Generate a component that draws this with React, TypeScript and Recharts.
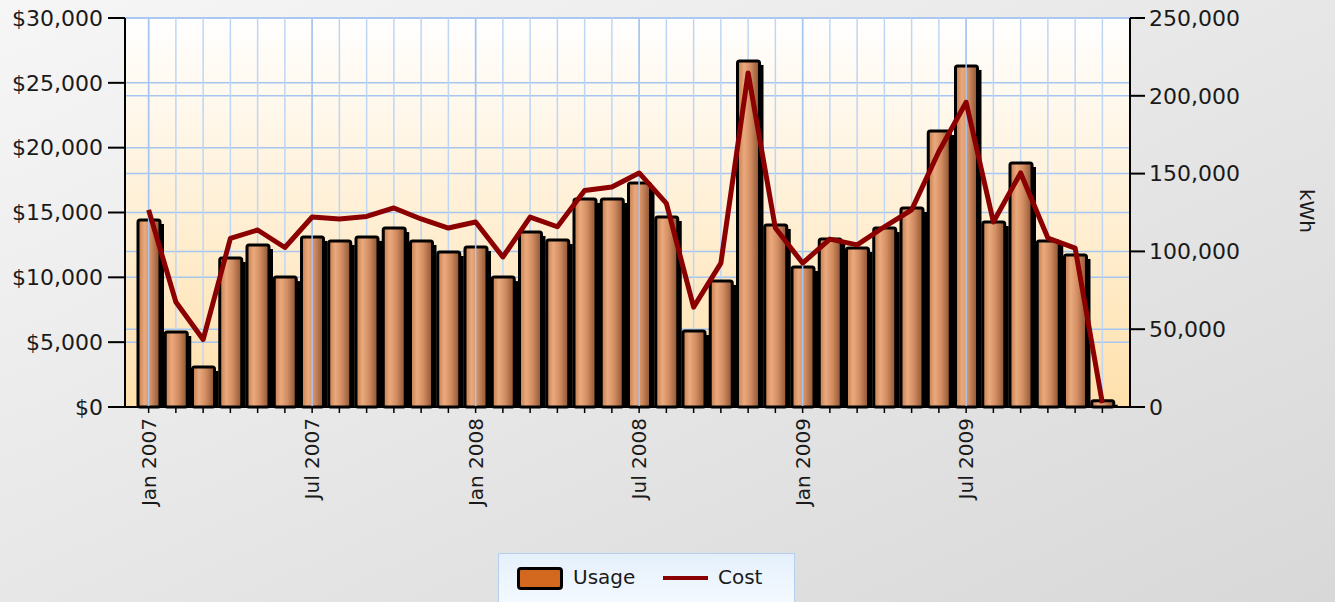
import { ComposedChart, Bar, Line, XAxis, YAxis, CartesianGrid, ReferenceLine, Legend } from 'recharts';

const MONTHS = ['Jan', 'Feb', 'Mar', 'Apr', 'May', 'Jun', 'Jul', 'Aug', 'Sep', 'Oct', 'Nov', 'Dec'];
const YEARS = [2007, 2008, 2009];
const categories = YEARS.flatMap((y) => MONTHS.map((m) => `${m} ${y}`));

// kWh, right axis
const usage = [
  120200, 48200, 25700, 95800, 104100, 83500, 109300, 106700, 109300, 115000, 106700, 99600,
  102800, 83500, 112500, 107300, 133700, 133700, 144000, 122100, 48800, 81000, 222400, 117000,
  90000, 108000, 102200, 115000, 127900, 177400, 219200, 118900, 156800, 106700, 97700, 4000,
];

// dollars, left axis
const cost = [
  15200, 8100, 5200, 13000, 13650, 12300, 14650, 14500, 14700, 15350, 14500, 13800,
  14270, 11570, 14650, 13900, 16700, 16970, 18050, 15700, 7700, 11100, 25760, 13800,
  11100, 12950, 12500, 13900, 15200, 19700, 23500, 14270, 18050, 13030, 12260, 300,
];

const costTicks = [0, 5000, 10000, 15000, 20000, 25000, 30000];
const usageTicks = [0, 50000, 100000, 150000, 200000, 250000];

const data = categories.map((month, i) => ({ month, usage: usage[i], cost: cost[i] }));
const majorMonths = categories.filter((_, i) => i % 6 === 0);

const FONT = '"DejaVu Sans", sans-serif';
const TEXT = '#1a1a1a';
const GRID_MINOR = '#bdd6f5';
const GRID_MAJOR = '#a6c5f0';

const BarShape = (props: any) => {
  const { x, y, width, height } = props;
  if (height <= 0) return null;
  return (
    <g>
      <rect x={x + 4} y={y + 4} width={width} height={Math.max(height - 4, 0)} fill="#000" />
      <rect x={x} y={y} width={width} height={height} rx={2} fill="url(#barGradient)" stroke="#000" strokeWidth={3} />
    </g>
  );
};

const MonthTick = (props: any) => {
  const { x, y, payload, index } = props;
  if (index % 6 !== 0) return null;
  return (
    <text
      x={x}
      y={y + 3}
      dy={7}
      transform={`rotate(-90, ${x}, ${y + 3})`}
      textAnchor="end"
      fill={TEXT}
      fontFamily={FONT}
      fontSize={20}
    >
      {payload.value}
    </text>
  );
};

const LegendBox = () => (
  <div
    style={{
      position: 'relative',
      width: 297,
      height: 49,
      boxSizing: 'border-box',
      background: 'linear-gradient(#e5f0fc, #f4f9ff)',
      border: '1px solid #b4cff0',
      borderBottom: 'none',
      fontFamily: FONT,
      fontSize: 20,
      color: TEXT,
    }}
  >
    <div style={{ position: 'absolute', left: 18, top: 13, width: 40, height: 17, background: '#d2691e', border: '3px solid #000', borderRadius: 4 }} />
    <span style={{ position: 'absolute', left: 74, top: 11, lineHeight: '24px' }}>Usage</span>
    <div style={{ position: 'absolute', left: 164, top: 22, width: 45, height: 4, background: '#8b0000' }} />
    <span style={{ position: 'absolute', left: 219, top: 11, lineHeight: '24px' }}>Cost</span>
  </div>
);

export default function App() {
  return (
    <div
      style={{
        position: 'absolute',
        left: 0,
        top: 0,
        width: 1335,
        height: 602,
        overflow: 'hidden',
        background: 'linear-gradient(to bottom right, #f6f6f6, #d8d8d8)',
      }}
    >
      <ComposedChart width={1335} height={602} data={data} margin={{ top: 18, right: 0, bottom: 75, left: 0 }}>
        <defs>
          <linearGradient id="plotBg" x1="0" y1="0" x2="0" y2="1">
            <stop offset="0%" stopColor="#ffffff" />
            <stop offset="100%" stopColor="#ffe0ab" />
          </linearGradient>
          <linearGradient id="barGradient" x1="0" y1="0" x2="1" y2="0">
            <stop offset="0%" stopColor="#c47b4b" />
            <stop offset="30%" stopColor="#eaaa7e" />
            <stop offset="60%" stopColor="#d18c60" />
            <stop offset="100%" stopColor="#8a5232" />
          </linearGradient>
        </defs>
        <CartesianGrid yAxisId="left" stroke={GRID_MAJOR} strokeWidth={1.5} fill="url(#plotBg)" vertical={false} />
        <CartesianGrid yAxisId="right" stroke={GRID_MAJOR} strokeWidth={1.5} vertical={false} />
        <CartesianGrid yAxisId="left" stroke={GRID_MINOR} strokeWidth={1.5} horizontal={false} />
        {majorMonths.map((m) => (
          <ReferenceLine key={m} x={m} yAxisId="left" stroke={GRID_MAJOR} strokeWidth={1.5} />
        ))}
        <XAxis
          dataKey="month"
          interval={0}
          height={120}
          padding={{ left: 10, right: 14 }}
          tickSize={6}
          tick={<MonthTick />}
          axisLine={{ stroke: '#000', strokeWidth: 2 }}
          tickLine={{ stroke: '#000', strokeWidth: 1.5 }}
        />
        <YAxis
          yAxisId="left"
          width={125}
          domain={[0, 30000]}
          ticks={costTicks}
          tickSize={17}
          tickMargin={5}
          tickFormatter={(v) => `$${Number(v).toLocaleString('en-US')}`}
          tick={{ fill: TEXT, fontFamily: FONT, fontSize: 22 }}
          axisLine={{ stroke: '#000', strokeWidth: 2 }}
          tickLine={{ stroke: '#000', strokeWidth: 2 }}
        />
        <YAxis
          yAxisId="right"
          orientation="right"
          width={205}
          domain={[0, 250000]}
          ticks={usageTicks}
          tickSize={15}
          tickMargin={4}
          tickFormatter={(v) => Number(v).toLocaleString('en-US')}
          tick={{ fill: TEXT, fontFamily: FONT, fontSize: 22 }}
          axisLine={{ stroke: '#000', strokeWidth: 2 }}
          tickLine={{ stroke: '#000', strokeWidth: 2 }}
          label={() => (
            <text x={1307} y={211} transform="rotate(90, 1307, 211)" textAnchor="middle" dominantBaseline="central" fill={TEXT} fontFamily={FONT} fontSize={20}>
              kWh
            </text>
          )}
        />
        <Bar yAxisId="right" dataKey="usage" name="Usage" barSize={22} shape={<BarShape />} isAnimationActive={false} />
        <Line
          yAxisId="left"
          type="linear"
          dataKey="cost"
          name="Cost"
          stroke="#8b0000"
          strokeWidth={5}
          strokeLinejoin="round"
          dot={false}
          isAnimationActive={false}
        />
        <Legend
          layout="vertical"
          align="center"
          verticalAlign="middle"
          wrapperStyle={{ left: 498, top: 553, width: 297 }}
          content={() => <LegendBox />}
        />
      </ComposedChart>
    </div>
  );
}
